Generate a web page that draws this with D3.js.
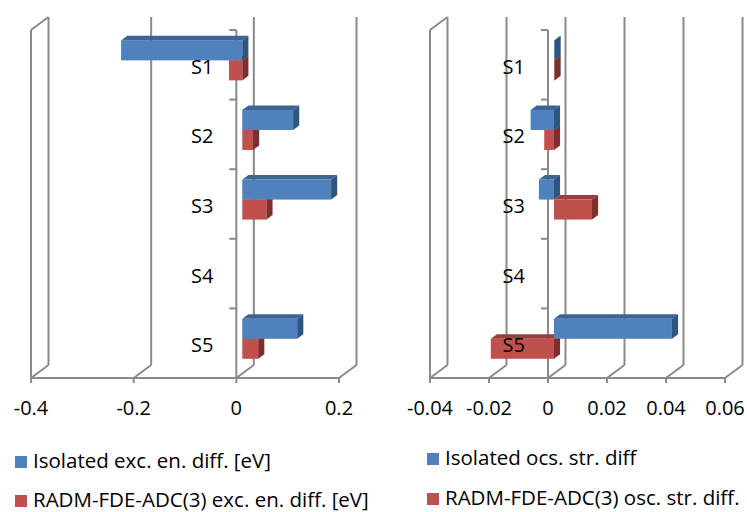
<!DOCTYPE html>
<html><head><meta charset="utf-8">
<script src="https://cdn.jsdelivr.net/npm/d3@7"></script>
<style>
  body { margin: 0; background: #fff; }
  svg { display: block; }
  text { font-family: "Open Sans", Lato, sans-serif; fill: #000; }
</style>
</head><body>
<svg id="chart" width="747" height="512"></svg>
<script>
// Excitation energy and oscillator strength differences per state
const categories = ["S1", "S2", "S3", "S4", "S5"];
const isolatedExc = [-0.236, 0.099, 0.173, null, 0.107];
const radmExc = [-0.026, 0.021, 0.047, null, 0.031];
const isolatedOsc = [0.0002, -0.0079, -0.0051, null, 0.040];
const radmOsc = [0.0002, -0.0033, 0.0129, null, -0.0214];
const excTicks = [-0.4, -0.2, 0, 0.2];
const oscTicks = [-0.04, -0.02, 0, 0.02, 0.04, 0.06];
const excLegend = ["Isolated exc. en. diff. [eV]", "RADM-FDE-ADC(3) exc. en. diff. [eV]"];
const oscLegend = ["Isolated ocs. str. diff", "RADM-FDE-ADC(3) osc. str. diff."];

const svg = d3.select("#chart");
const gridColor = "#8a8a8a";
const depth = { x: 17.5, y: -13 };      // oblique offset of the back wall
const barNear = 0.34, barFar = 0.69;   // bar depth as fraction of the wall depth
const colors = {
  iso:  { front: "#4F81BD", top: "#3C6594", side: "#2E5482" },
  radm: { front: "#C0504D", top: "#9A3E3B", side: "#7C2F2D" }
};

function panel(o) {
  const g = svg.append("g");
  const x = d3.scaleLinear().domain(o.domain).range(o.range);
  const y = d3.scaleBand().domain(categories).range([30, 378]).padding(0);
  const inner = d3.scaleBand().domain(["iso", "radm"]).range([0, y.bandwidth()])
    .paddingInner(0).paddingOuter(0.74);
  const top = y.range()[0], bottom = y.range()[1];
  const line = (x1, y1, x2, y2) => g.append("line")
    .attr("x1", x1).attr("y1", y1).attr("x2", x2).attr("y2", y2)
    .attr("stroke", gridColor).attr("stroke-width", 2);

  // back-wall gridlines, floor diagonals and front ticks
  o.ticks.forEach(t => {
    const tx = x(t);
    line(tx + depth.x, top + depth.y, tx + depth.x, bottom + depth.y);
    line(tx, bottom, tx + depth.x, bottom + depth.y);
    line(tx, bottom, tx, bottom + 5);
  });
  // front floor edge and side wall
  line(o.range[0], bottom, o.range[1], bottom);
  line(o.range[0], top, o.range[0], bottom);
  line(o.range[0], top, o.range[0] + depth.x, top + depth.y);

  // category axis at zero
  const x0 = x(0);
  line(x0, top, x0, bottom);
  y.domain().forEach(c => line(x0 - 7, y(c), x0, y(c)));
  line(x0 - 7, bottom, x0, bottom);

  // value axis labels
  g.selectAll("text.tick").data(o.ticks).join("text")
    .attr("class", "tick")
    .attr("x", d => x(d)).attr("y", 415)
    .attr("text-anchor", "middle")
    .style("font-size", "20px")
    .text(d => String(d));

  // 3D bars: lower series first so the upper bar overlaps it
  const series = [
    { key: "radm", values: o.radm },
    { key: "iso", values: o.iso }
  ];
  const n = { x: depth.x * barNear, y: depth.y * barNear };
  const f = { x: depth.x * barFar, y: depth.y * barFar };
  const bars = g.append("g");
  categories.forEach((c, i) => {
    series.forEach(s => {
      const v = s.values[i];
      if (v === null) return;
      const a = x(Math.min(v, 0)), b = x(Math.max(v, 0));
      const y0 = y(c) + inner(s.key), h = inner.bandwidth();
      const col = colors[s.key];
      bars.append("rect")
        .attr("x", a + n.x).attr("y", y0 + n.y)
        .attr("width", b - a).attr("height", h)
        .attr("fill", col.front);
      bars.append("polygon")
        .attr("points", [[a + n.x, y0 + n.y], [b + n.x, y0 + n.y], [b + f.x, y0 + f.y], [a + f.x, y0 + f.y]].join(" "))
        .attr("fill", col.top);
      bars.append("polygon")
        .attr("points", [[b + n.x, y0 + n.y], [b + f.x, y0 + f.y], [b + f.x, y0 + h + f.y], [b + n.x, y0 + h + n.y]].join(" "))
        .attr("fill", col.side);
    });
  });

  // category labels
  g.selectAll("text.cat").data(categories).join("text")
    .attr("class", "cat")
    .attr("x", x0 - 23)
    .attr("y", d => y(d) + y.bandwidth() / 2 + 9)
    .attr("text-anchor", "end")
    .style("font-size", "20px")
    .text(d => d);

  // legend
  const lg = g.append("g");
  o.legend.forEach((label, i) => {
    const key = i === 0 ? "iso" : "radm";
    const ly = o.legendY[i];
    lg.append("rect").attr("x", o.legendX).attr("y", ly - 12)
      .attr("width", 12).attr("height", 12).attr("fill", colors[key].front);
    lg.append("text").attr("x", o.legendX + 18).attr("y", ly)
      .style("font-size", "20.5px").text(label);
  });
}

panel({
  domain: [-0.4, 0.2], range: [31, 339], ticks: excTicks,
  iso: isolatedExc, radm: radmExc,
  legend: excLegend, legendX: 15, legendY: [468, 507]
});
panel({
  domain: [-0.04, 0.06], range: [430, 725], ticks: oscTicks,
  iso: isolatedOsc, radm: radmOsc,
  legend: oscLegend, legendX: 427, legendY: [465, 505]
});
</script>
</body></html>
